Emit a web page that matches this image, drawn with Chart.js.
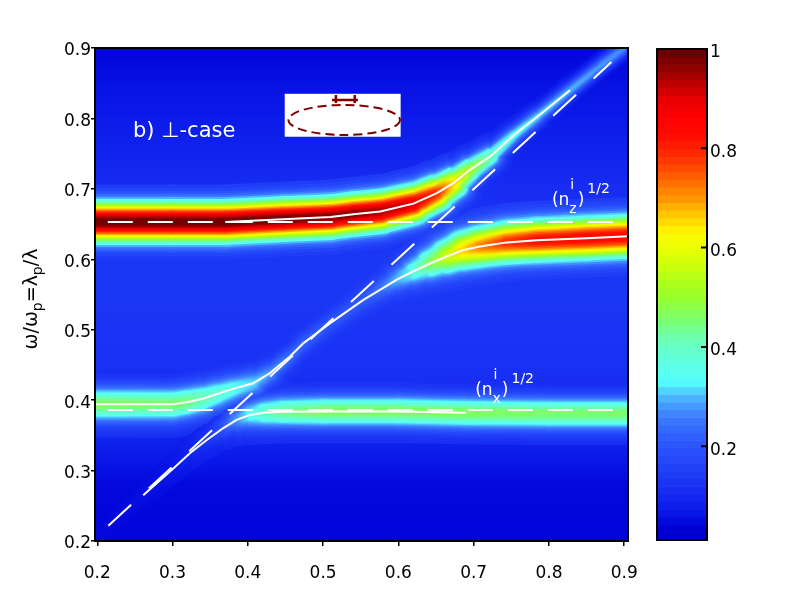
<!DOCTYPE html>
<html><head><meta charset="utf-8">
<script src="https://cdn.jsdelivr.net/npm/chart.js@4.4.1/dist/chart.umd.min.js"></script>
<style>
html,body{margin:0;padding:0;background:#fff;overflow:hidden}
#wrap{position:relative;width:795px;height:607px}
#main{position:absolute;left:0;top:0;width:795px;height:607px}
#cb{position:absolute;left:640px;top:0;width:155px;height:607px}
</style></head><body>
<div id="wrap"><canvas id="main" width="795" height="607"></canvas><canvas id="cb" width="155" height="607"></canvas></div>
<script>
// ---------------- data ----------------
const X_TICKS = [0.2, 0.3, 0.4, 0.5, 0.6, 0.7, 0.8, 0.9];
const Y_TICKS = [0.2, 0.3, 0.4, 0.5, 0.6, 0.7, 0.8, 0.9];
const CB_TICKS = [0.2, 0.4, 0.6, 0.8, 1];

// upper branch: centre (peak position), peak intensity, vertical half-width (sigma, in y units)
const A_x    = [0.19, 0.30, 0.37, 0.447, 0.51, 0.54, 0.576, 0.62, 0.651, 0.673, 0.695, 0.722, 0.753, 0.784, 0.828, 0.87, 0.915];
const A_y    = [0.653, 0.653, 0.653, 0.657, 0.660, 0.664, 0.668, 0.679, 0.694, 0.708, 0.727, 0.746, 0.776, 0.802, 0.840, 0.876, 0.912];
const A_peak = [1.0, 1.0, 1.0, 0.99, 0.98, 0.97, 0.95, 0.90, 0.80, 0.66, 0.52, 0.42, 0.35, 0.32, 0.30, 0.28, 0.27];
const A_sig  = [0.019, 0.019, 0.019, 0.019, 0.019, 0.019, 0.019, 0.019, 0.019, 0.018, 0.016, 0.013, 0.011, 0.010, 0.009, 0.009, 0.009];

// middle branch
const B_x    = [0.19, 0.30, 0.318, 0.34, 0.36, 0.38, 0.407, 0.429, 0.456, 0.474, 0.509, 0.553, 0.576, 0.598, 0.62, 0.642, 0.664, 0.686, 0.708, 0.744, 0.784, 0.85, 0.915];
const B_y    = [0.394, 0.394, 0.397, 0.402, 0.409, 0.416, 0.424, 0.438, 0.462, 0.481, 0.509, 0.542, 0.557, 0.571, 0.583, 0.594, 0.604, 0.613, 0.618, 0.624, 0.627, 0.630, 0.633];
const B_peak = [0.47, 0.46, 0.45, 0.42, 0.39, 0.36, 0.32, 0.28, 0.24, 0.22, 0.20, 0.21, 0.24, 0.30, 0.38, 0.47, 0.57, 0.66, 0.72, 0.79, 0.83, 0.85, 0.85];
const B_sig  = [0.017, 0.017, 0.017, 0.017, 0.016, 0.015, 0.014, 0.012, 0.011, 0.011, 0.011, 0.011, 0.012, 0.013, 0.015, 0.017, 0.019, 0.020, 0.020, 0.020, 0.020, 0.020, 0.020];

// lower branch
const C_x    = [0.19, 0.215, 0.261, 0.301, 0.323, 0.345, 0.367, 0.385, 0.403, 0.421, 0.447, 0.50, 0.60, 0.69, 0.80, 0.915];
const C_y    = [0.195, 0.221, 0.265, 0.303, 0.3245, 0.343, 0.360, 0.372, 0.379, 0.382, 0.3835, 0.384, 0.384, 0.382, 0.381, 0.381];
const C_peak = [0.05, 0.05, 0.06, 0.07, 0.09, 0.13, 0.20, 0.28, 0.35, 0.40, 0.44, 0.47, 0.47, 0.47, 0.46, 0.46];
const C_sig  = [0.009, 0.009, 0.009, 0.009, 0.010, 0.011, 0.012, 0.014, 0.015, 0.016, 0.016, 0.016, 0.016, 0.016, 0.016, 0.016];

// x-ranges where the white dispersion curves are drawn
const A_solid = [0.37, 0.828];
const B_solid = [0.19, 0.915];
const C_solid = [0.261, 0.69];

// background level versus y
const BG_Y = [0.2, 0.28, 0.33, 0.37, 0.45, 0.55, 0.60, 0.70, 0.78, 0.85, 0.9];
const BG_V = [0.045, 0.05, 0.08, 0.10, 0.12, 0.13, 0.13, 0.11, 0.08, 0.06, 0.045];

// reference lines
const NZ_x = [0.214, 0.886]; const NZ_y = [0.653, 0.653];
const NX_x = [0.214, 0.886]; const NX_y = [0.386, 0.386];
const LIGHT_x = [0.2147, 0.883]; const LIGHT_y = [0.2217, 0.880];

// ---------------- colour map (from the colour bar) ----------------
const CMAP = [[0,0,0,190],[0.04,0,0,215],[0.07,10,25,232],[0.10,20,40,240],[0.14,30,58,246],[0.18,38,75,250],
 [0.22,48,95,255],[0.26,62,125,255],[0.29,72,165,255],[0.31,80,205,255],[0.33,85,255,255],[0.37,95,255,225],
 [0.41,105,255,190],[0.45,120,255,120],[0.50,150,255,45],[0.55,190,255,15],[0.60,235,255,0],[0.63,255,250,0],
 [0.67,255,195,0],[0.70,255,150,0],[0.74,255,100,0],[0.78,255,50,0],[0.82,255,15,0],[0.86,255,0,0],
 [0.90,230,0,0],[0.93,190,0,0],[0.96,145,0,0],[1.0,100,0,0]];
function cmap(v){
  v = Math.max(0, Math.min(1, v));
  for (let i = 1; i < CMAP.length; i++) {
    if (v <= CMAP[i][0]) {
      const a = CMAP[i-1], b = CMAP[i], t = (v - a[0]) / (b[0] - a[0]);
      return 'rgb(' + Math.round(a[1]+(b[1]-a[1])*t) + ',' + Math.round(a[2]+(b[2]-a[2])*t) + ',' + Math.round(a[3]+(b[3]-a[3])*t) + ')';
    }
  }
  return 'rgb(100,0,0)';
}
function bgAt(y){
  if (y <= BG_Y[0]) return BG_V[0];
  for (let i = 1; i < BG_Y.length; i++) if (y <= BG_Y[i]) { const t = (y-BG_Y[i-1])/(BG_Y[i]-BG_Y[i-1]); return BG_V[i-1] + (BG_V[i]-BG_V[i-1])*t; }
  return BG_V[BG_V.length-1];
}

const G_LEVELS = [0.02,0.04,0.07,0.10,0.14,0.18,0.23,0.28,0.33,0.38,0.44,0.50,0.56,0.62,0.68,0.74,0.80,0.85,0.90,0.94,0.97];
const BANDS = [
  {x:A_x, y:A_y, p:A_peak, s:A_sig},
  {x:B_x, y:B_y, p:B_peak, s:B_sig},
  {x:C_x, y:C_y, p:C_peak, s:C_sig}
];

function bandLayer(band, k){
  const gEdge = G_LEVELS[k];
  const gCol = (G_LEVELS[k] + (k+1 < G_LEVELS.length ? G_LEVELS[k+1] : 1)) / 2;
  const half = Math.sqrt(-2*Math.log(gEdge));
  const colorAt = i => { const b = bgAt(band.y[i]); return cmap(b + (band.p[i]-b)*gCol); };
  return {
    data: band.x.map((x,i)=>({x:x, y:band.y[i]})),
    order: 100 - k, borderColor: colorAt(0), borderWidth: 1, pointRadius: 0, pointHoverRadius: 0,
    tension: 0, fill: false, borderCapStyle: 'round', borderJoinStyle: 'round',
    segment: {
      borderWidth: c => {
        const ys = c.chart.scales.y;
        const ppu = Math.abs(ys.getPixelForValue(0) - ys.getPixelForValue(1));
        const dx = c.p1.x - c.p0.x, dy = c.p1.y - c.p0.y;
        const len = Math.hypot(dx, dy) || 1;
        const cos = Math.abs(dx)/len;
        const s = (band.s[c.p0DataIndex] + band.s[c.p1DataIndex]) / 2;
        return Math.max(1, 2*half*s*ppu*cos);
      },
      borderColor: c => {
        const g = c.chart.ctx.createLinearGradient(c.p0.x, c.p0.y, c.p1.x, c.p1.y);
        g.addColorStop(0, colorAt(c.p0DataIndex));
        g.addColorStop(1, colorAt(c.p1DataIndex));
        return g;
      }
    }
  };
}

const datasets = [];
for (let k = 0; k < G_LEVELS.length; k++) BANDS.forEach(b => datasets.push(bandLayer(b, k)));

function solidLine(band, range){
  const pts = [];
  band.x.forEach((x,i)=>{ if (x >= range[0]-1e-9 && x <= range[1]+1e-9) pts.push({x:x, y:band.y[i]}); });
  return {data: pts, order: 1, borderColor: '#fff', borderWidth: 2, pointRadius: 0, tension: 0, fill: false};
}
datasets.push(solidLine(BANDS[0], A_solid));
datasets.push(solidLine(BANDS[1], B_solid));
datasets.push(solidLine(BANDS[2], C_solid));
function dashed(xs, ys, dash){
  return {data: xs.map((x,i)=>({x:x, y:ys[i]})), order: 0, borderColor: '#fff', borderWidth: 2, borderDash: dash, pointRadius: 0, tension: 0, fill: false};
}
datasets.push(dashed(NZ_x, NZ_y, [25,15]));
datasets.push(dashed(NX_x, NX_y, [25,15]));
datasets.push(dashed(LIGHT_x, LIGHT_y, [31,24]));

// ---------------- plugins ----------------
const bgPlugin = {
  id: 'bgfield',
  beforeDatasetsDraw(chart){
    const {ctx, chartArea:a, scales:{y}} = chart;
    const y0 = y.getPixelForValue(BG_Y[0]), y1 = y.getPixelForValue(BG_Y[BG_Y.length-1]);
    const g = ctx.createLinearGradient(0, y0, 0, y1);
    BG_Y.forEach((v,i)=> g.addColorStop((y.getPixelForValue(v)-y0)/(y1-y0), cmap(BG_V[i])));
    ctx.save(); ctx.fillStyle = g; ctx.fillRect(a.left, a.top, a.right-a.left, a.bottom-a.top); ctx.restore();
  }
};

function txt(ctx, s, x, y, size){ ctx.font = size + 'px "DejaVu Sans"'; ctx.fillText(s, x, y); return ctx.measureText(s).width; }
function nLabel(ctx, x0, y0, sub){
  let x = x0;
  x += txt(ctx, '(n', x, y0, 17);
  const wi = txt(ctx, 'i', x+1, y0-16, 14);
  const ws = txt(ctx, sub, x, y0+8, 14);
  x += Math.max(wi+1, ws) + 1;
  x += txt(ctx, ')', x, y0, 17);
  txt(ctx, '1/2', x+3, y0-12, 14);
}

const overlayPlugin = {
  id: 'overlay',
  afterDatasetsDraw(chart){
    const {ctx, chartArea:a, scales:{x:xs, y:ys}} = chart;
    const X = v => xs.getPixelForValue(v), Y = v => ys.getPixelForValue(v);
    ctx.save();
    ctx.beginPath(); ctx.rect(a.left, a.top, a.right-a.left, a.bottom-a.top); ctx.clip();
    // inset sketch
    ctx.fillStyle = '#fff';
    ctx.fillRect(X(0.449), Y(0.835), X(0.603)-X(0.449), Y(0.774)-Y(0.835));
    ctx.strokeStyle = '#800000'; ctx.lineWidth = 2; ctx.setLineDash([9,5]);
    ctx.beginPath();
    ctx.ellipse(X(0.528), Y(0.7978), X(0.528+0.0741)-X(0.528), Y(0.7978-0.0213)-Y(0.7978), 0, 0, Math.PI*2);
    ctx.stroke();
    ctx.setLineDash([]); ctx.lineWidth = 2.5;
    ctx.beginPath();
    ctx.moveTo(X(0.5118), Y(0.8262)); ctx.lineTo(X(0.5464), Y(0.8262));
    ctx.moveTo(X(0.517), Y(0.8333)); ctx.lineTo(X(0.517), Y(0.8219));
    ctx.moveTo(X(0.542), Y(0.8333)); ctx.lineTo(X(0.542), Y(0.8219));
    ctx.stroke();
    // labels
    ctx.fillStyle = '#fff'; ctx.textBaseline = 'alphabetic'; ctx.textAlign = 'left';
    txt(ctx, 'b) \u22A5-case', X(0.2475), Y(0.7736), 21);
    nLabel(ctx, X(0.804), Y(0.677), 'z');
    nLabel(ctx, X(0.702), Y(0.407), 'x');
    ctx.restore();
    // frame
    ctx.save(); ctx.strokeStyle = '#000'; ctx.lineWidth = 2;
    ctx.strokeRect(a.left, a.top, a.right-a.left, a.bottom-a.top); ctx.restore();
  },
  afterDraw(chart){
    const ctx = chart.ctx;
    ctx.save();
    ctx.translate(37, 299); ctx.rotate(-Math.PI/2);
    ctx.fillStyle = '#000'; ctx.textBaseline = 'alphabetic'; ctx.textAlign = 'left';
    const parts = [['\u03C9/\u03C9',19,0],['p',14,5],['=\u03BB',19,0],['p',14,5],['/\u03BB',19,0]];
    let total = 0;
    parts.forEach(p=>{ ctx.font = p[1]+'px "DejaVu Sans"'; total += ctx.measureText(p[0]).width; });
    let x = -total/2;
    parts.forEach(p=>{ x += txt(ctx, p[0], x, p[2], p[1]); });
    ctx.restore();
  }
};

const tickFont = {family: 'DejaVu Sans', size: 17};
const fmt = v => (Math.abs(v-1) < 1e-9 ? '1' : Number(v).toFixed(1));

new Chart(document.getElementById('main'), {
  type: 'line',
  data: {datasets: datasets},
  options: {
    responsive: false, animation: false, devicePixelRatio: 1,
    layout: {padding: {top: 48, right: 167, left: 0, bottom: 0}},
    plugins: {legend: {display: false}, tooltip: {enabled: false}},
    events: [],
    scales: {
      x: {
        type: 'linear', min: 0.197, max: 0.905,
        afterFit: s => { s.height = 66; },
        afterBuildTicks: s => { s.ticks = X_TICKS.map(v => ({value: v})); },
        grid: {drawOnChartArea: false, drawTicks: true, tickLength: 5, color: '#000', lineWidth: 1.5},
        border: {display: false},
        ticks: {padding: 17, color: '#000', font: tickFont, maxRotation: 0, autoSkip: false, callback: fmt}
      },
      y: {
        type: 'linear', min: 0.2, max: 0.9,
        afterFit: s => { s.width = 95; },
        afterBuildTicks: s => { s.ticks = Y_TICKS.map(v => ({value: v})); },
        grid: {drawOnChartArea: false, drawTicks: true, tickLength: 4, color: '#000', lineWidth: 1.5},
        border: {display: false},
        ticks: {padding: 0, color: '#000', font: tickFont, autoSkip: false, labelOffset: 3, callback: fmt}
      }
    }
  },
  plugins: [bgPlugin, overlayPlugin]
});

// ---------------- colour bar ----------------
const cbPlugin = {
  id: 'cbar',
  beforeDatasetsDraw(chart){
    const {ctx, chartArea:a, scales:{y}} = chart;
    const N = 64;
    for (let i = 0; i < N; i++) {
      const v0 = y.min + (y.max - y.min)*i/N, v1 = y.min + (y.max - y.min)*(i+1)/N;
      const p0 = y.getPixelForValue(v0), p1 = y.getPixelForValue(v1);
      ctx.fillStyle = cmap((v0+v1)/2);
      ctx.fillRect(a.left, p1, a.right-a.left, p0-p1+0.6);
    }
  },
  afterDatasetsDraw(chart){
    const {ctx, chartArea:a, scales:{y}} = chart;
    ctx.save(); ctx.strokeStyle = '#000'; ctx.lineWidth = 2;
    ctx.strokeRect(a.left, a.top, a.right-a.left, a.bottom-a.top);
    ctx.beginPath();
    CB_TICKS.forEach(v => { const p = y.getPixelForValue(v); ctx.moveTo(a.right-6, p); ctx.lineTo(a.right, p); });
    ctx.stroke(); ctx.restore();
  }
};
new Chart(document.getElementById('cb'), {
  type: 'line',
  data: {datasets: []},
  options: {
    responsive: false, animation: false, devicePixelRatio: 1, events: [],
    layout: {padding: {left: 17, top: 49, bottom: 67, right: 0}},
    plugins: {legend: {display: false}, tooltip: {enabled: false}},
    scales: {
      x: {type: 'linear', display: false, min: 0, max: 1},
      y: {
        type: 'linear', position: 'right', min: 0.011, max: 1,
        afterFit: s => { s.width = 88; },
        afterBuildTicks: s => { s.ticks = CB_TICKS.map(v => ({value: v})); },
        grid: {display: false, drawTicks: false},
        border: {display: false},
        ticks: {padding: 3, color: '#000', font: tickFont, labelOffset: 4, callback: fmt}
      }
    }
  },
  plugins: [cbPlugin]
});
</script></body></html>
